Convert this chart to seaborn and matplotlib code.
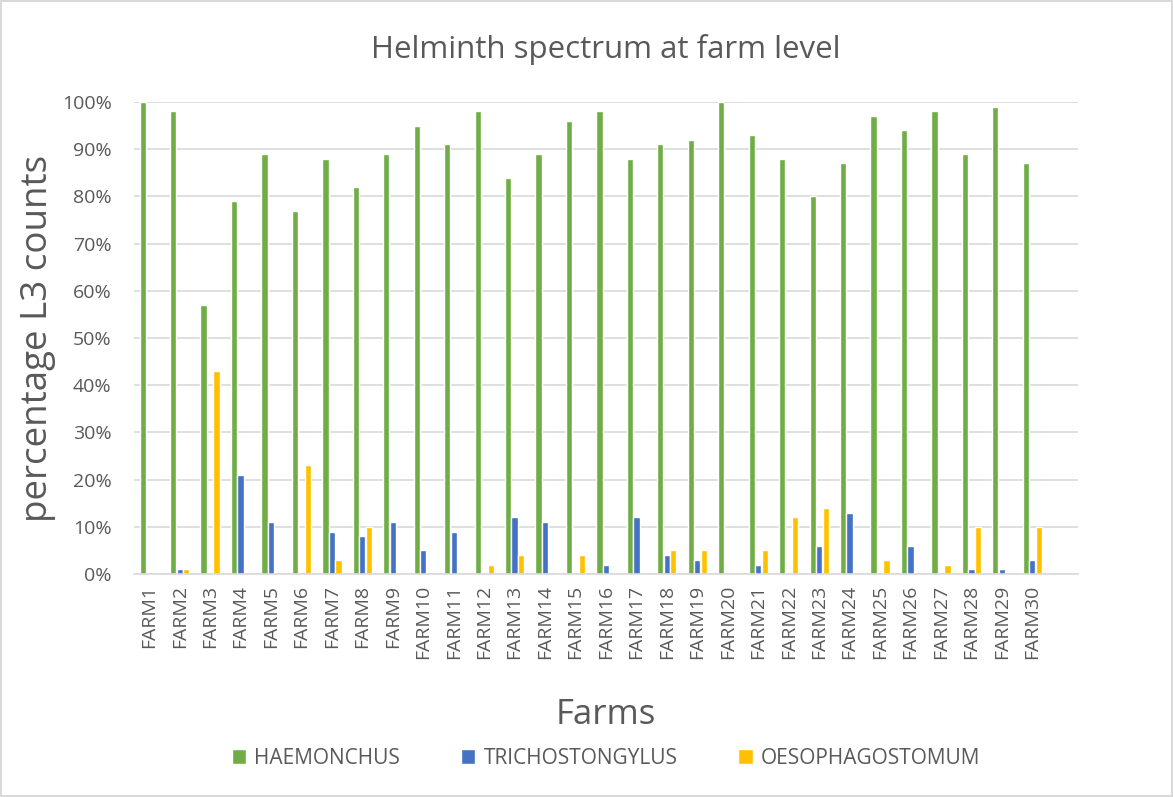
import numpy as np
import pandas as pd
import seaborn as sns
import matplotlib.pyplot as plt
from matplotlib.ticker import PercentFormatter

farms = ['FARM' + str(i) for i in range(1, 31)]

haemonchus = [100, 98, 57, 79, 89, 77, 88, 82, 89, 95, 91, 98, 84, 89, 96,
              98, 88, 91, 92, 100, 93, 88, 80, 87, 97, 94, 98, 89, 99, 87]
trichostongylus = [0, 1, 0, 21, 11, 0, 9, 8, 11, 5, 9, 0, 12, 11, 0,
                   2, 12, 4, 3, 0, 2, 0, 6, 13, 0, 6, 0, 1, 1, 3]
oesophagostomum = [0, 1, 43, 0, 0, 23, 3, 10, 0, 0, 0, 2, 4, 0, 4,
                   0, 0, 5, 5, 0, 5, 12, 14, 0, 3, 0, 2, 10, 0, 10]

series = ['HAEMONCHUS', 'TRICHOSTONGYLUS', 'OESOPHAGOSTOMUM']
colors = ['#70AD47', '#4472C4', '#FFC000']

df = pd.DataFrame({
    'farm': farms * 3,
    'species': [series[0]] * 30 + [series[1]] * 30 + [series[2]] * 30,
    'pct': haemonchus + trichostongylus + oesophagostomum,
})
df['pct'] = df['pct'] / 100

sns.set_style("white")
plt.rcParams['font.family'] = ['Open Sans', 'DejaVu Sans']
txt = '#595959'

fig = plt.figure(figsize=(11.73, 7.97), dpi=100)
ax = fig.add_axes([0.1142, 0.2798, 0.8048, 0.5922])

sns.barplot(data=df, x='farm', y='pct', hue='species', order=farms,
            hue_order=series, palette=colors, width=0.64, gap=0.04,
            saturation=1, ax=ax)

ax.set_xlim(-0.5, 30.5)
ax.set_ylim(0, 1.0)
ax.set_yticks(np.arange(0, 1.01, 0.1))
ax.yaxis.set_major_formatter(PercentFormatter(1.0, decimals=0))
ax.grid(axis='y', color='#D9D9D9', linewidth=1.2)
ax.set_axisbelow(True)
for s in ['top', 'right', 'left']:
    ax.spines[s].set_visible(False)
ax.spines['bottom'].set_color('#D9D9D9')
ax.spines['bottom'].set_linewidth(1.2)

ax.tick_params(axis='x', labelrotation=90, labelsize=14, colors=txt, length=0, pad=8)
ax.tick_params(axis='y', labelsize=14, colors=txt, length=0, pad=16)

ax.set_title('Helminth spectrum at farm level', fontsize=22.5, color=txt, pad=32)
ax.set_xlabel('Farms', fontsize=25, color=txt, labelpad=28)
ax.set_ylabel('percentage L3 counts', fontsize=26.5, color=txt, labelpad=4)

ax.legend(loc='center', bbox_to_anchor=(0.5, -0.39), ncol=3, frameon=False,
          fontsize=15, labelcolor=txt, handlelength=0.7, handleheight=0.7,
          columnspacing=2.9, handletextpad=0.4)

fig.patch.set_edgecolor('#D9D9D9')
fig.patch.set_linewidth(1.5)

fig.savefig('out.png', dpi=100)
